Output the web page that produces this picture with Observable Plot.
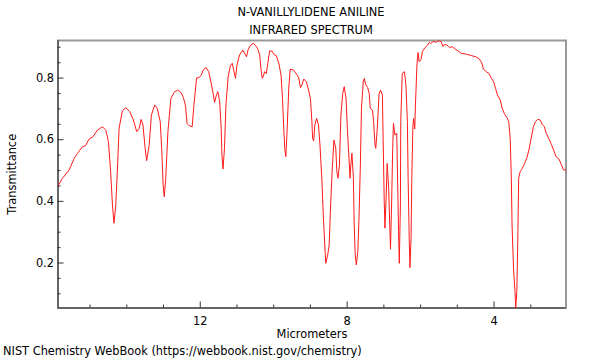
<!DOCTYPE html>
<html><head><meta charset="utf-8">
<script src="https://cdn.jsdelivr.net/npm/d3@7"></script>
<script src="https://cdn.jsdelivr.net/npm/@observablehq/plot@0.6"></script>
<style>
body{margin:0;background:#fff;font-family:"DejaVu Sans",sans-serif;}
#wrap{position:relative;width:600px;height:360px;overflow:hidden;}
#title{position:absolute;left:57px;width:508px;top:3px;text-align:center;font-size:11.4px;line-height:18px;color:#000;}
#chart{position:absolute;left:0;top:38px;}
#caption{position:absolute;left:3px;top:343px;font-size:11.4px;line-height:17px;color:#000;white-space:nowrap;}
</style></head><body>
<div id="wrap">
<div id="title">N-VANILLYLIDENE ANILINE<br>INFRARED SPECTRUM</div>
<div id="chart"></div>
<div id="caption">NIST Chemistry WebBook (https://webbook.nist.gov/chemistry)</div>
</div>
<script>
const micrometers = [15.86,15.75,15.57,15.43,15.34,15.21,15.12,15.03,14.92,14.80,14.66,14.57,14.50,14.44,14.39,14.35,14.30,14.25,14.21,14.12,14.03,13.92,13.82,13.73,13.66,13.61,13.56,13.50,13.46,13.39,13.33,13.24,13.17,13.09,13.05,13.01,12.98,12.94,12.88,12.80,12.71,12.62,12.53,12.46,12.40,12.36,12.31,12.22,12.18,12.10,12.04,11.98,11.91,11.84,11.77,11.71,11.65,11.61,11.56,11.52,11.47,11.43,11.41,11.38,11.34,11.30,11.24,11.18,11.13,11.09,11.04,11.00,10.93,10.84,10.79,10.74,10.70,10.64,10.56,10.50,10.44,10.38,10.35,10.31,10.27,10.25,10.20,10.16,10.11,10.05,9.98,9.93,9.86,9.80,9.76,9.73,9.70,9.67,9.64,9.59,9.55,9.46,9.37,9.32,9.27,9.23,9.18,9.11,9.05,9.00,8.96,8.94,8.91,8.88,8.83,8.78,8.74,8.69,8.65,8.60,8.58,8.53,8.49,8.45,8.40,8.36,8.31,8.28,8.25,8.21,8.17,8.12,8.08,8.03,7.99,7.95,7.92,7.90,7.87,7.83,7.81,7.78,7.75,7.71,7.68,7.64,7.61,7.56,7.53,7.50,7.44,7.40,7.37,7.31,7.28,7.24,7.22,7.18,7.13,7.09,7.04,7.02,6.99,6.97,6.94,6.91,6.87,6.84,6.82,6.79,6.76,6.74,6.70,6.65,6.63,6.60,6.58,6.55,6.54,6.50,6.44,6.40,6.36,6.34,6.31,6.29,6.26,6.24,6.21,6.19,6.16,6.14,6.10,6.07,6.04,5.99,5.95,5.88,5.81,5.76,5.72,5.66,5.59,5.52,5.48,5.44,5.39,5.35,5.28,5.21,5.14,5.08,4.98,4.89,4.76,4.62,4.49,4.40,4.33,4.29,4.21,4.14,4.08,4.01,3.96,3.90,3.83,3.78,3.71,3.65,3.60,3.56,3.53,3.51,3.47,3.43,3.41,3.38,3.35,3.33,3.29,3.23,3.17,3.11,3.05,2.99,2.93,2.87,2.81,2.74,2.69,2.63,2.58,2.51,2.44,2.38,2.31,2.23,2.17,2.11,2.04];
const transmittance = [0.453,0.475,0.502,0.540,0.556,0.577,0.581,0.602,0.610,0.631,0.642,0.631,0.594,0.496,0.388,0.329,0.388,0.518,0.637,0.693,0.704,0.691,0.664,0.626,0.637,0.666,0.648,0.572,0.532,0.583,0.680,0.713,0.702,0.659,0.572,0.453,0.415,0.475,0.626,0.734,0.754,0.761,0.754,0.737,0.710,0.653,0.646,0.642,0.702,0.801,0.801,0.808,0.828,0.834,0.821,0.788,0.750,0.721,0.745,0.756,0.723,0.637,0.550,0.505,0.572,0.713,0.804,0.840,0.848,0.826,0.799,0.842,0.875,0.891,0.880,0.869,0.891,0.905,0.913,0.907,0.896,0.875,0.832,0.799,0.810,0.821,0.815,0.848,0.888,0.888,0.875,0.873,0.848,0.810,0.734,0.648,0.572,0.545,0.615,0.767,0.829,0.826,0.812,0.801,0.769,0.778,0.797,0.788,0.761,0.734,0.660,0.604,0.596,0.648,0.669,0.648,0.583,0.475,0.356,0.237,0.199,0.226,0.258,0.388,0.518,0.599,0.572,0.496,0.475,0.518,0.680,0.750,0.772,0.734,0.626,0.540,0.475,0.518,0.556,0.475,0.334,0.226,0.194,0.237,0.334,0.518,0.702,0.790,0.799,0.780,0.769,0.750,0.702,0.696,0.659,0.583,0.572,0.637,0.750,0.761,0.745,0.604,0.399,0.313,0.410,0.523,0.442,0.323,0.245,0.388,0.572,0.653,0.615,0.621,0.496,0.302,0.199,0.388,0.659,0.815,0.821,0.777,0.659,0.475,0.280,0.185,0.280,0.475,0.642,0.669,0.635,0.713,0.842,0.883,0.853,0.859,0.886,0.899,0.907,0.916,0.912,0.919,0.916,0.920,0.920,0.918,0.902,0.909,0.907,0.899,0.902,0.896,0.888,0.880,0.878,0.873,0.869,0.862,0.848,0.829,0.821,0.815,0.801,0.788,0.767,0.743,0.729,0.702,0.682,0.672,0.659,0.604,0.475,0.323,0.183,0.107,0.055,0.107,0.302,0.475,0.496,0.507,0.523,0.540,0.567,0.604,0.642,0.659,0.666,0.664,0.650,0.642,0.621,0.604,0.585,0.567,0.545,0.537,0.520,0.502,0.502];
const xMajorTicks = [12, 8, 4];
const xMinorTicks = [15, 14, 13, 11, 10, 9, 7, 6, 5, 3];
const yMajorTicks = [0.2, 0.4, 0.6, 0.8];
const yMinorTicks = [0.1, 0.15, 0.25, 0.3, 0.35, 0.45, 0.5, 0.55, 0.65, 0.7, 0.75, 0.85, 0.9];
const xDomain = [15.873, 2.041];
const yDomain = [0.054, 0.922];

const spectrum = micrometers.map((m, i) => ({m, t: transmittance[i]}));

const W = 600, H = 305, mT = 2, mB = 35.5, mL = 57.5, mR = 34.5;
const frameH = H - mT - mB, frameW = W - mL - mR;

const chart = Plot.plot({
  width: W, height: H,
  marginTop: mT, marginBottom: mB, marginLeft: mL, marginRight: mR,
  style: {fontFamily: "DejaVu Sans, sans-serif", fontSize: "11.4px", color: "#000", background: "#fff"},
  x: {domain: xDomain},
  y: {domain: yDomain},
  marks: [
    Plot.frame({stroke: "#999", strokeWidth: 2}),
    Plot.ruleX([xDomain[0]], {stroke: "#555", strokeWidth: 1.5}),
    Plot.ruleY([yDomain[0]], {stroke: "#555", strokeWidth: 1.5}),
    Plot.tickX(xMajorTicks, {x: d => d, insetTop: frameH - 6, stroke: "#333"}),
    Plot.tickX(xMinorTicks, {x: d => d, insetTop: frameH - 3, stroke: "#333"}),
    Plot.tickY(yMajorTicks, {y: d => d, insetRight: frameW - 6, stroke: "#333"}),
    Plot.tickY(yMinorTicks, {y: d => d, insetRight: frameW - 3, stroke: "#333"}),
    Plot.axisX(xMajorTicks, {tickSize: 0, tickPadding: 9, label: "Micrometers", labelAnchor: "center", labelArrow: false, labelOffset: 30}),
    Plot.axisY(yMajorTicks, {tickSize: 0, tickPadding: 4, tickFormat: d3.format(".1f"), label: "Transmittance", labelAnchor: "center", labelArrow: false, labelOffset: 50}),
    Plot.line(spectrum, {x: "m", y: "t", stroke: "#ff1a1a", strokeWidth: 1})
  ]
});
document.getElementById("chart").appendChild(chart);
</script>
</body></html>
